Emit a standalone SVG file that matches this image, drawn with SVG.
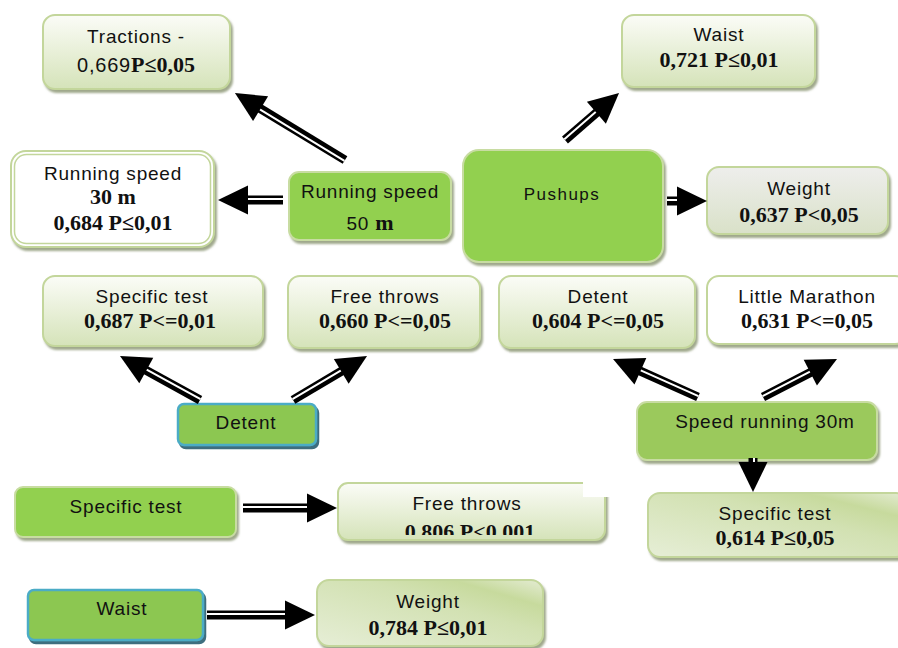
<svg xmlns="http://www.w3.org/2000/svg" xmlns:xlink="http://www.w3.org/1999/xlink" width="898" height="648" viewBox="0 0 898 648">
<style>
.lbl{font-family:"Liberation Sans",Arial,sans-serif;font-size:19px;letter-spacing:0.8px;fill:#111;text-anchor:middle}
.num{font-family:"Liberation Serif","Times New Roman",serif;font-size:22px;font-weight:bold;letter-spacing:0;fill:#111}
.lt{fill:url(#gv);stroke:#c3d69b;stroke-width:2;filter:url(#ds)}
.ltd{fill:url(#gd);stroke:#c3d69b;stroke-width:2;filter:url(#ds)}
.gr{fill:#92d050;stroke:#c8dca2;stroke-width:2;filter:url(#ds)}
.bl{fill:#8cc751;stroke:#4bacc6;stroke-width:2.5;filter:url(#dsb)}
.wh{fill:#fff;stroke:#c3d69b;stroke-width:2;filter:url(#ds)}
.shaft{stroke:#000;stroke-width:9;fill:none}
.gap{stroke:#fff;stroke-width:2;fill:none}
</style>
<defs>
<linearGradient id="gv" x1="0" y1="0" x2="0" y2="1"><stop offset="0" stop-color="#fbfcf7"/><stop offset="1" stop-color="#d5e3b9"/></linearGradient>
<linearGradient id="gd" x1="0" y1="1" x2="1" y2="0"><stop offset="0" stop-color="#e6eed6"/><stop offset="0.6" stop-color="#d2e1b2"/><stop offset="0.8" stop-color="#c7da9d"/><stop offset="1" stop-color="#e4ecd3"/></linearGradient>
<linearGradient id="gg" x1="0" y1="0" x2="0" y2="1"><stop offset="0" stop-color="#eeeeec"/><stop offset="1" stop-color="#d9e1c8"/></linearGradient>
<filter id="ds" x="-10%" y="-10%" width="125%" height="130%"><feDropShadow dx="2" dy="3" stdDeviation="0.8" flood-color="#8f9a78" flood-opacity="0.85"/></filter>
<filter id="dsb" x="-10%" y="-10%" width="125%" height="130%"><feDropShadow dx="2" dy="3" stdDeviation="0.6" flood-color="#2c5f70" flood-opacity="0.9"/></filter>
<clipPath id="cf"><rect x="330" y="470" width="290" height="65"/></clipPath>
<path id="hd" d="M0,0 L-30,-14.5 L-30,14.5 Z" fill="#000"/>
</defs>
<rect width="898" height="648" fill="#fff"/>

<g id="tractions">
<rect class="lt" x="43" y="15" width="187" height="74" rx="12"/>
<text class="lbl" x="136" y="43">Tractions -</text>
<text class="lbl" x="136" y="72" style="font-size:20px">0,669<tspan class="num">P≤0,05</tspan></text>
</g>

<g id="run30">
<rect class="wh" x="11" y="151" width="203" height="96" rx="15"/>
<rect x="14.5" y="154.5" width="196" height="89" rx="12" fill="none" stroke="#c3d69b" stroke-width="1.5"/>
<text class="lbl" x="113" y="180">Running speed</text>
<text class="num" x="113" y="204" text-anchor="middle">30 m</text>
<text class="num" x="113" y="230" text-anchor="middle">0,684 P≤0,01</text>
</g>

<g id="run50">
<rect class="gr" x="289" y="172" width="162" height="68" rx="10"/>
<text class="lbl" x="370" y="198">Running speed</text>
<text class="lbl" x="370" y="230">50 <tspan class="num">m</tspan></text>
</g>

<g id="pushups">
<rect class="gr" x="463" y="150" width="200" height="112" rx="16"/>
<text class="lbl" x="562" y="200" style="font-size:17px;letter-spacing:1.5px">Pushups</text>
</g>

<g id="waist-top">
<rect class="lt" x="622" y="15" width="193" height="72" rx="12"/>
<text class="lbl" x="719" y="41">Waist</text>
<text class="num" x="719" y="67" text-anchor="middle">0,721 P≤0,01</text>
</g>

<g id="weight-right">
<rect x="707" y="167" width="181" height="67" rx="12" fill="url(#gg)" stroke="#c3d69b" stroke-width="2" filter="url(#ds)"/>
<text class="lbl" x="799" y="195">Weight</text>
<text class="num" x="799" y="222" text-anchor="middle">0,637 P&lt;0,05</text>
</g>

<g id="specific-left">
<rect class="lt" x="43" y="276" width="220" height="70" rx="12"/>
<text class="lbl" x="152" y="303">Specific test</text>
<text class="num" x="150" y="328" text-anchor="middle">0,687 P&lt;=0,01</text>
</g>

<g id="free-throws">
<rect class="lt" x="288" y="276" width="192" height="72" rx="12"/>
<text class="lbl" x="385" y="303">Free throws</text>
<text class="num" x="385" y="328" text-anchor="middle">0,660 P&lt;=0,05</text>
</g>

<g id="detent-left">
<rect class="bl" x="178" y="404" width="138" height="41" rx="6"/>
<text class="lbl" x="246" y="429">Detent</text>
</g>

<g id="detent-right">
<rect class="lt" x="499" y="276" width="196" height="72" rx="12"/>
<text class="lbl" x="598" y="303">Detent</text>
<text class="num" x="598" y="328" text-anchor="middle">0,604 P&lt;=0,05</text>
</g>

<g id="little-marathon">
<rect class="wh" x="707" y="276" width="200" height="68" rx="12"/>
<text class="lbl" x="807" y="303">Little Marathon</text>
<text class="num" x="807" y="328" text-anchor="middle">0,631 P&lt;=0,05</text>
</g>

<g id="speed30">
<rect x="637" y="402" width="240" height="58" rx="10" fill="#9bc95b" stroke="#c8dca2" stroke-width="2" filter="url(#ds)"/>
<text class="lbl" x="765" y="428">Speed running 30m</text>
</g>

<g id="specific-br">
<rect class="ltd" x="648" y="493" width="260" height="64" rx="12"/>
<text class="lbl" x="775" y="520">Specific test</text>
<text class="num" x="775" y="545" text-anchor="middle">0,614 P≤0,05</text>
</g>

<g id="specific-green">
<rect class="gr" x="15" y="487" width="221" height="50" rx="8"/>
<text class="lbl" x="126" y="513">Specific test</text>
</g>

<g id="free-throws-mid">
<rect class="lt" x="338" y="483" width="267" height="57" rx="10"/>
<rect x="583" y="480" width="30" height="17" fill="#fff"/>
<text class="lbl" x="467" y="510">Free throws</text>
<text class="num" x="470" y="539" text-anchor="middle" clip-path="url(#cf)">0.806 P&lt;0.001</text>
</g>

<g id="waist-bottom">
<rect class="bl" x="28" y="590" width="175" height="50" rx="6"/>
<text class="lbl" x="122" y="615">Waist</text>
</g>

<g id="weight-bottom">
<rect class="ltd" x="317" y="580" width="226" height="66" rx="12"/>
<text class="lbl" x="428" y="608">Weight</text>
<text class="num" x="428" y="635" text-anchor="middle">0,784 P≤0,01</text>
</g>

<g id="connectors">
<g transform="translate(345,160) rotate(-148.7)"><line class="shaft" x1="0" y1="0" x2="100" y2="0"/><line class="gap" x1="0" y1="-1" x2="100" y2="-1"/><use xlink:href="#hd" x="128.8"/></g>
<g transform="translate(283,200) rotate(180)"><line class="shaft" x1="0" y1="0" x2="36" y2="0"/><line class="gap" x1="0" y1="1" x2="36" y2="1"/><use xlink:href="#hd" x="65"/></g>
<g transform="translate(565,140) rotate(-41)"><line class="shaft" x1="0" y1="0" x2="43" y2="0"/><line class="gap" x1="0" y1="-1" x2="43" y2="-1"/><use xlink:href="#hd" x="71.6"/></g>
<g transform="translate(667,201)"><line class="shaft" x1="0" y1="0" x2="12" y2="0"/><line class="gap" x1="0" y1="-1" x2="12" y2="-1"/><use xlink:href="#hd" x="40"/></g>
<g transform="translate(200,400) rotate(-151.2)"><line class="shaft" x1="0" y1="0" x2="63" y2="0"/><line class="gap" x1="0" y1="1" x2="63" y2="1"/><use xlink:href="#hd" x="91.3"/></g>
<g transform="translate(293,400) rotate(-30.7)"><line class="shaft" x1="0" y1="0" x2="58" y2="0"/><line class="gap" x1="0" y1="-1" x2="58" y2="-1"/><use xlink:href="#hd" x="86.1"/></g>
<g transform="translate(698,397) rotate(-155.9)"><line class="shaft" x1="0" y1="0" x2="65" y2="0"/><line class="gap" x1="0" y1="1" x2="65" y2="1"/><use xlink:href="#hd" x="93.1"/></g>
<g transform="translate(763,397) rotate(-27.2)"><line class="shaft" x1="0" y1="0" x2="55" y2="0"/><line class="gap" x1="0" y1="-1" x2="55" y2="-1"/><use xlink:href="#hd" x="83.2"/></g>
<g transform="translate(753,458) rotate(90)"><line class="shaft" x1="0" y1="0" x2="6" y2="0"/><line class="gap" x1="0" y1="-1" x2="6" y2="-1"/><use xlink:href="#hd" x="34"/></g>
<g transform="translate(243,508)"><line class="shaft" x1="0" y1="0" x2="66" y2="0"/><line class="gap" x1="0" y1="-1" x2="66" y2="-1"/><use xlink:href="#hd" x="94"/></g>
<g transform="translate(207,615)"><line class="shaft" x1="0" y1="0" x2="80" y2="0"/><line class="gap" x1="0" y1="-1" x2="80" y2="-1"/><use xlink:href="#hd" x="108"/></g>
</g>
</svg>
